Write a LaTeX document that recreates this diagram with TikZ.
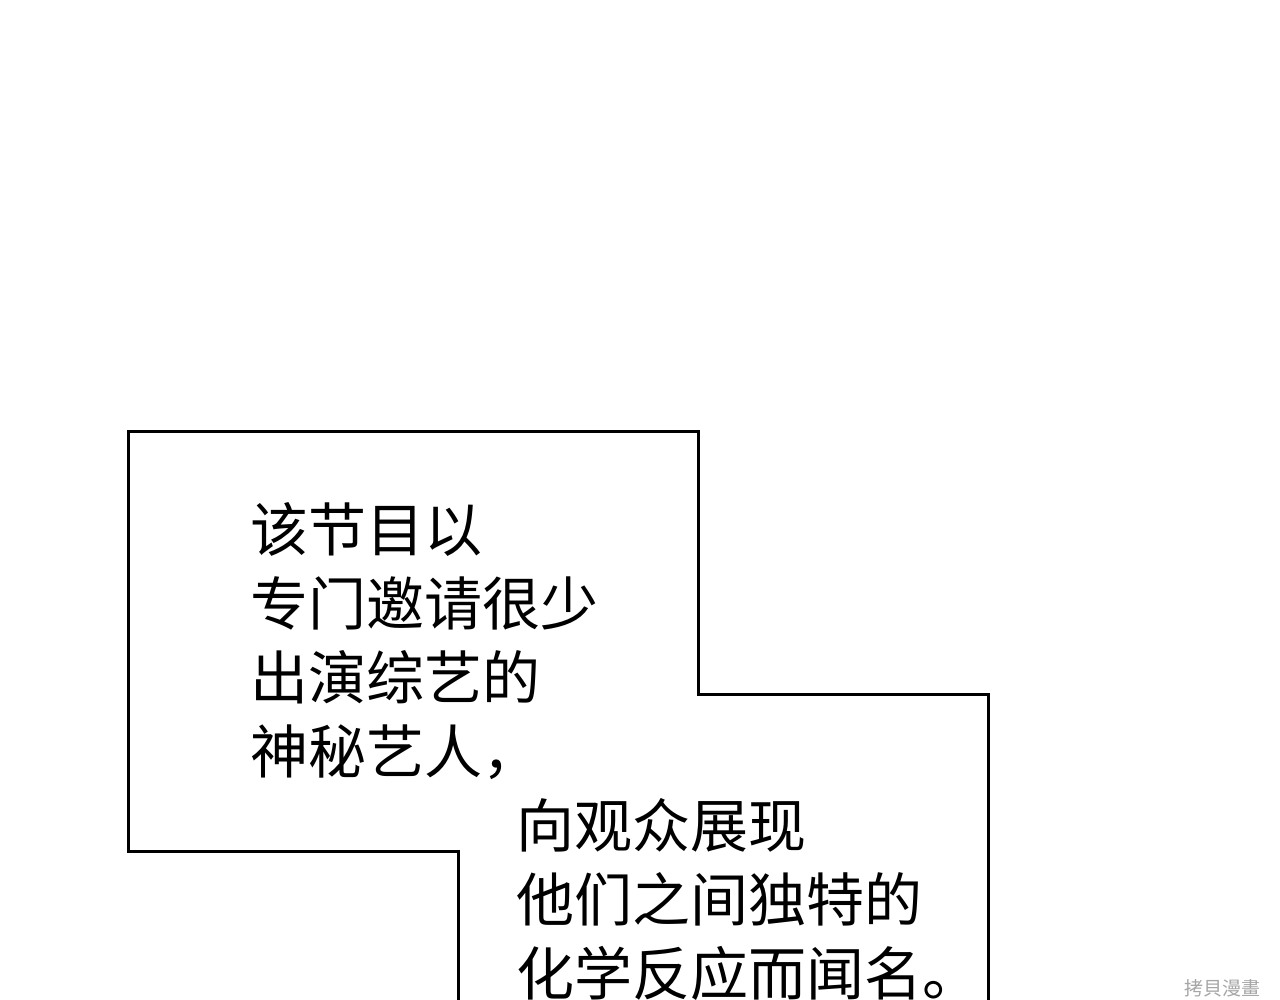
\documentclass[tikz,border=0pt]{standalone}
\usepackage{fontspec}
\newfontfamily\cjk{Noto Sans CJK SC}
\begin{document}
\begin{tikzpicture}[x=1pt,y=1pt,
  txt/.style={anchor=north west,align=left,inner sep=0pt,font=\cjk\fontsize{58}{74}\selectfont}]
\useasboundingbox (0,0) rectangle (1280,1000);
\fill[white] (0,0) rectangle (1280,1000);
\draw[line width=3pt] (458,0) -- (458,148) -- (128,148) -- (128,568) -- (698,568) -- (698,305) -- (988,305) -- (988,0);
\node[txt] (a) at (250,498) {该节目以\\专门邀请很少\\出演综艺的\\神秘艺人，};
\node[txt] (b) at (516,202) {向观众展现\\他们之间独特的\\化学反应而闻名。};
\node[font=\cjk\fontsize{19}{19}\selectfont,text=gray!70,anchor=center] (w) at (1222,12) {拷貝漫畫};
\end{tikzpicture}
\end{document}
